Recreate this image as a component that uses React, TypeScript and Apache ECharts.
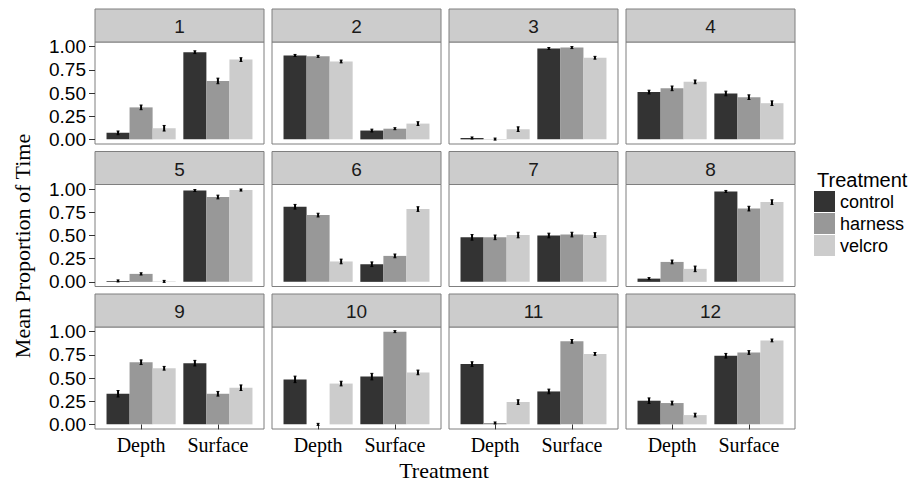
import React, { useEffect, useRef } from "react";
import * as echarts from "echarts";

const panelNames = ["1", "2", "3", "4", "5", "6", "7", "8", "9", "10", "11", "12"];
const categories = ["Depth", "Surface"];
const treatments = ["control", "harness", "velcro"];
const treatmentColors = ["#333333", "#989898", "#cccccc"];
const yTicks = [0, 0.25, 0.5, 0.75, 1];

// mean proportions, one value per panel 1..12
const controlDepth = [0.07, 0.905, 0.015, 0.51, 0.01, 0.81, 0.48, 0.035, 0.33, 0.485, 0.65, 0.255];
const harnessDepth = [0.345, 0.895, 0.003, 0.55, 0.086, 0.72, 0.48, 0.215, 0.67, 0.0, 0.015, 0.23];
const velcroDepth = [0.12, 0.84, 0.11, 0.62, 0.005, 0.22, 0.505, 0.14, 0.605, 0.44, 0.24, 0.1];
const controlSurface = [0.94, 0.095, 0.98, 0.495, 0.985, 0.19, 0.5, 0.975, 0.66, 0.515, 0.355, 0.74];
const harnessSurface = [0.63, 0.115, 0.99, 0.455, 0.915, 0.28, 0.51, 0.79, 0.33, 1.0, 0.895, 0.775];
const velcroSurface = [0.86, 0.17, 0.88, 0.39, 0.99, 0.785, 0.505, 0.86, 0.395, 0.56, 0.76, 0.905];

// standard errors (half-lengths of the error bars)
const controlDepthErr = [0.02, 0.01, 0.005, 0.02, 0.005, 0.025, 0.03, 0.008, 0.035, 0.035, 0.025, 0.03];
const harnessDepthErr = [0.025, 0.01, 0.003, 0.025, 0.012, 0.02, 0.025, 0.02, 0.025, 0.003, 0.005, 0.02];
const velcroDepthErr = [0.03, 0.015, 0.025, 0.02, 0.008, 0.025, 0.03, 0.03, 0.02, 0.025, 0.025, 0.02];
const controlSurfaceErr = [0.015, 0.015, 0.01, 0.025, 0.008, 0.025, 0.025, 0.008, 0.03, 0.035, 0.025, 0.025];
const harnessSurfaceErr = [0.03, 0.01, 0.008, 0.025, 0.02, 0.02, 0.025, 0.025, 0.025, 0.005, 0.02, 0.02];
const velcroSurfaceErr = [0.02, 0.02, 0.015, 0.025, 0.008, 0.025, 0.025, 0.025, 0.03, 0.025, 0.015, 0.015];

const depthVals = [controlDepth, harnessDepth, velcroDepth];
const surfaceVals = [controlSurface, harnessSurface, velcroSurface];
const depthErrs = [controlDepthErr, harnessDepthErr, velcroDepthErr];
const surfaceErrs = [controlSurfaceErr, harnessSurfaceErr, velcroSurfaceErr];

const SANS = "'Liberation Sans', Arial, sans-serif";
const SERIF = "'Liberation Serif', 'Times New Roman', serif";

export default function App() {
  const ref = useRef<HTMLDivElement>(null);
  useEffect(() => {
    if (!ref.current) return;
    const chart = echarts.init(ref.current, null, { renderer: "svg" });

    const colLeft = [95, 272, 449, 626];
    const panelW = 169;
    const stripH = 33;
    const panelH = 102;
    const rowStep = 142.5;
    const firstStrip = 9;
    const dodge = [-0.3, 0, 0.3];
    const barW = 0.3;

    const grids: any[] = [];
    const xAxes: any[] = [];
    const yAxes: any[] = [];
    const series: any[] = [];
    const graphics: any[] = [];

    const renderItem = (params: any, api: any) => {
      const x = api.value(0);
      const y = api.value(1);
      const e = api.value(2);
      const tl = api.coord([x - barW / 2, y]);
      const br = api.coord([x + barW / 2, 0]);
      const top = api.coord([x, y + e]);
      const bot = api.coord([x, y - e]);
      let y1 = top[1];
      let y2 = bot[1];
      if (y2 - y1 < 2) {
        const m = (y1 + y2) / 2;
        y1 = m - 1;
        y2 = m + 1;
      }
      return {
        type: "group",
        children: [
          {
            type: "rect",
            shape: { x: tl[0], y: tl[1], width: br[0] - tl[0], height: br[1] - tl[1] },
            style: { fill: api.visual("color") },
          },
          {
            type: "line",
            shape: { x1: top[0], y1, x2: top[0], y2 },
            style: { stroke: "#000", lineWidth: 2 },
          },
          {
            type: "line",
            shape: { x1: top[0] - 1.5, y1, x2: top[0] + 1.5, y2: y1 },
            style: { stroke: "#000", lineWidth: 1 },
          },
          {
            type: "line",
            shape: { x1: top[0] - 1.5, y1: y2, x2: top[0] + 1.5, y2 },
            style: { stroke: "#000", lineWidth: 1 },
          },
        ],
      };
    };

    panelNames.forEach((name, p) => {
      const r = Math.floor(p / 4);
      const c = p % 4;
      const stripTop = firstStrip + r * rowStep;
      const panelTop = stripTop + stripH;
      grids.push({
        left: colLeft[c],
        top: panelTop,
        width: panelW,
        height: panelH,
        show: true,
        borderColor: "#7f7f7f",
        borderWidth: 1,
        backgroundColor: "#ffffff",
      });
      const bottomRow = r === 2;
      xAxes.push({
        type: "value",
        gridIndex: p,
        min: 0.4,
        max: 2.6,
        axisLine: { show: false },
        splitLine: { show: false },
        axisTick: {
          show: bottomRow,
          customValues: [1, 2],
          length: 5,
          lineStyle: { color: "#333" },
        },
        axisLabel: {
          show: bottomRow,
          customValues: [1, 2],
          formatter: (v: number) => categories[Math.round(v) - 1] ?? "",
          fontFamily: SERIF,
          fontSize: 20,
          color: "#000",
          margin: 6,
        },
      });
      const leftCol = c === 0;
      yAxes.push({
        type: "value",
        gridIndex: p,
        min: -0.05,
        max: 1.05,
        axisLine: { show: false },
        splitLine: { show: false },
        axisTick: {
          show: leftCol,
          customValues: yTicks,
          length: 6,
          lineStyle: { color: "#333" },
        },
        axisLabel: {
          show: leftCol,
          customValues: yTicks,
          formatter: (v: number) => v.toFixed(2),
          fontFamily: SANS,
          fontSize: 19,
          color: "#000",
          margin: 9,
        },
      });
      treatments.forEach((t, ti) => {
        series.push({
          type: "custom",
          name: t,
          xAxisIndex: p,
          yAxisIndex: p,
          itemStyle: { color: treatmentColors[ti] },
          renderItem,
          data: [
            [1 + dodge[ti], depthVals[ti][p], depthErrs[ti][p]],
            [2 + dodge[ti], surfaceVals[ti][p], surfaceErrs[ti][p]],
          ],
        });
      });
      graphics.push({
        type: "rect",
        shape: { x: colLeft[c], y: stripTop, width: panelW, height: stripH },
        style: { fill: "#cccccc", stroke: "#7f7f7f", lineWidth: 1 },
        z: 10,
      });
      graphics.push({
        type: "text",
        x: colLeft[c] + panelW / 2,
        y: stripTop + stripH / 2 + 1,
        style: {
          text: name,
          textAlign: "center",
          textVerticalAlign: "middle",
          font: `19px ${SANS}`,
          fill: "#1a1a1a",
        },
        z: 11,
      });
    });

    graphics.push({
      type: "text",
      x: 22,
      y: 246,
      rotation: Math.PI / 2,
      style: {
        text: "Mean Proportion of Time",
        textAlign: "center",
        textVerticalAlign: "middle",
        font: `22px ${SERIF}`,
        fill: "#000",
      },
    });
    graphics.push({
      type: "text",
      x: 444,
      y: 470,
      style: {
        text: "Treatment",
        textAlign: "center",
        textVerticalAlign: "middle",
        font: `22px ${SERIF}`,
        fill: "#000",
      },
    });
    graphics.push({
      type: "text",
      x: 817,
      y: 180,
      style: {
        text: "Treatment",
        textAlign: "left",
        textVerticalAlign: "middle",
        font: `20px ${SANS}`,
        fill: "#000",
      },
    });

    chart.setOption({
      animation: false,
      backgroundColor: "#ffffff",
      grid: grids,
      xAxis: xAxes,
      yAxis: yAxes,
      series,
      legend: {
        data: treatments,
        orient: "vertical",
        left: 814,
        top: 191,
        padding: 0,
        itemWidth: 21,
        itemHeight: 21,
        itemGap: 1,
        icon: "rect",
        selectedMode: false,
        textStyle: { fontFamily: SANS, fontSize: 18, color: "#000" },
      },
      graphic: graphics,
    });

    return () => chart.dispose();
  }, []);
  return (
    <div
      ref={ref}
      style={{ position: "absolute", left: 0, top: 0, width: 917, height: 484 }}
    />
  );
}
